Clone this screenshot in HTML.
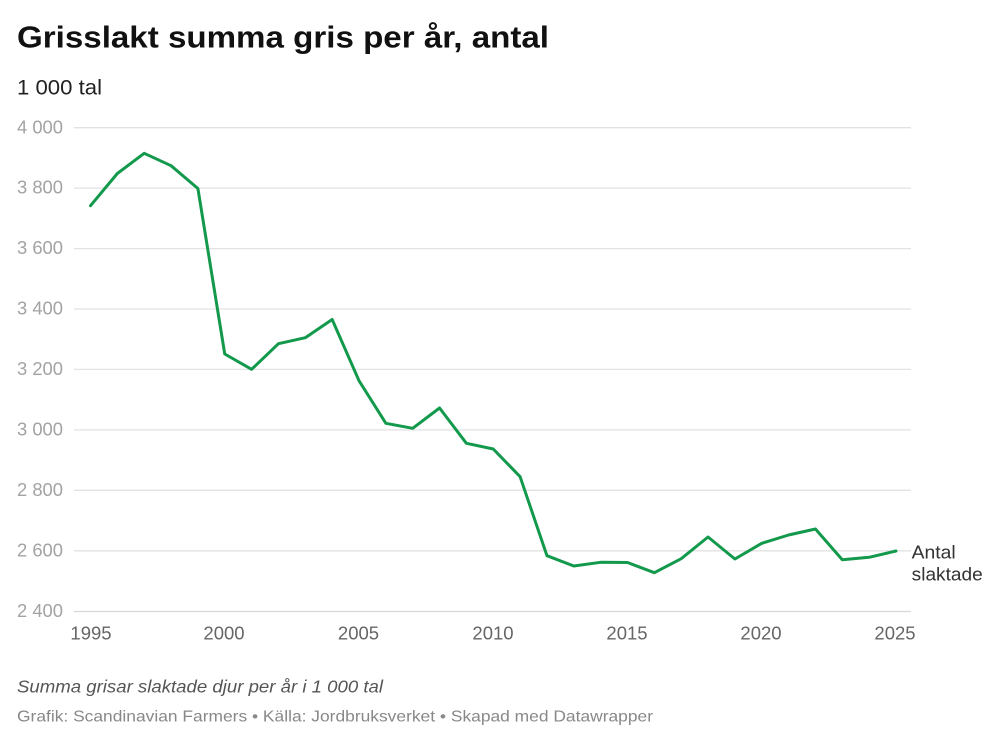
<!DOCTYPE html>
<html>
<head>
<meta charset="utf-8">
<style>
  html, body { margin:0; padding:0; background:#ffffff; }
  body { width:1000px; height:744px; overflow:hidden; }
  svg { display:block; }
  text { font-family: "Liberation Sans", "DejaVu Sans", sans-serif; }
</style>
</head>
<body>
<svg width="1000" height="744" viewBox="0 0 1000 744" xmlns="http://www.w3.org/2000/svg">
  <rect width="1000" height="744" fill="#ffffff"/>

  <!-- Title -->
  <text x="17" y="47.7" font-size="30.5" font-weight="bold" fill="#111" textLength="532" lengthAdjust="spacingAndGlyphs">Grisslakt summa gris per år, antal</text>
  <!-- Subtitle -->
  <text x="17" y="94.3" font-size="21" fill="#222" textLength="85" lengthAdjust="spacingAndGlyphs">1 000 tal</text>

  <!-- Gridlines -->
  <g stroke="#e2e2e2" stroke-width="1.3">
    <line x1="74" y1="127.7" x2="911" y2="127.7"/>
    <line x1="74" y1="188.1" x2="911" y2="188.1"/>
    <line x1="74" y1="248.6" x2="911" y2="248.6"/>
    <line x1="74" y1="309.0" x2="911" y2="309.0"/>
    <line x1="74" y1="369.4" x2="911" y2="369.4"/>
    <line x1="74" y1="429.9" x2="911" y2="429.9"/>
    <line x1="74" y1="490.3" x2="911" y2="490.3"/>
    <line x1="74" y1="550.8" x2="911" y2="550.8"/>
  </g>
  <line x1="74" y1="611.5" x2="911" y2="611.5" stroke="#d6d6d6" stroke-width="1.3"/>

  <!-- Y labels -->
  <g font-size="18.3" fill="#a3a3a3">
    <text x="17" y="133.3" textLength="46" lengthAdjust="spacingAndGlyphs">4 000</text>
    <text x="17" y="193.7" textLength="46" lengthAdjust="spacingAndGlyphs">3 800</text>
    <text x="17" y="254.2" textLength="46" lengthAdjust="spacingAndGlyphs">3 600</text>
    <text x="17" y="314.6" textLength="46" lengthAdjust="spacingAndGlyphs">3 400</text>
    <text x="17" y="375.0" textLength="46" lengthAdjust="spacingAndGlyphs">3 200</text>
    <text x="17" y="435.5" textLength="46" lengthAdjust="spacingAndGlyphs">3 000</text>
    <text x="17" y="495.9" textLength="46" lengthAdjust="spacingAndGlyphs">2 800</text>
    <text x="17" y="556.4" textLength="46" lengthAdjust="spacingAndGlyphs">2 600</text>
    <text x="17" y="617.1" textLength="46" lengthAdjust="spacingAndGlyphs">2 400</text>
  </g>

  <!-- X labels -->
  <g font-size="18.5" fill="#666" text-anchor="middle">
    <text x="91" y="639.3">1995</text>
    <text x="224" y="639.3">2000</text>
    <text x="358.5" y="639.3">2005</text>
    <text x="493" y="639.3">2010</text>
    <text x="627" y="639.3">2015</text>
    <text x="761" y="639.3">2020</text>
    <text x="895" y="639.3">2025</text>
  </g>

  <!-- Series -->
  <polyline fill="none" stroke="#13994b" stroke-width="3" stroke-linejoin="round" stroke-linecap="round"
    points="
    90.5,205.7
    117.35,173.5
    144.2,153.3
    171.05,165.7
    197.9,188.5
    224.75,354
    251.6,369.3
    278.45,343.7
    305.3,337.7
    332.15,319.5
    359.0,380.7
    385.85,423.3
    412.7,428.3
    439.55,408
    466.4,443.3
    493.25,449
    520.1,476.7
    546.95,555.7
    573.8,566
    600.65,562.3
    627.5,562.5
    654.35,572.7
    681.2,558.7
    708.05,537
    734.9,559
    761.75,543.3
    788.6,535
    815.45,529
    842.3,559.7
    869.15,557.3
    896.0,551" />

  <!-- Series label -->
  <g font-size="18.5" fill="#333">
    <text x="911.7" y="558.3" textLength="44" lengthAdjust="spacingAndGlyphs">Antal</text>
    <text x="911.7" y="580.7" textLength="71" lengthAdjust="spacingAndGlyphs">slaktade</text>
  </g>

  <!-- Footer -->
  <text x="17" y="692.7" font-size="17.5" font-style="italic" fill="#555" textLength="366" lengthAdjust="spacingAndGlyphs">Summa grisar slaktade djur per år i 1 000 tal</text>
  <text x="17" y="721.7" font-size="16" fill="#888" textLength="636" lengthAdjust="spacingAndGlyphs">Grafik: Scandinavian Farmers • Källa: Jordbruksverket • Skapad med Datawrapper</text>
</svg>
</body>
</html>
